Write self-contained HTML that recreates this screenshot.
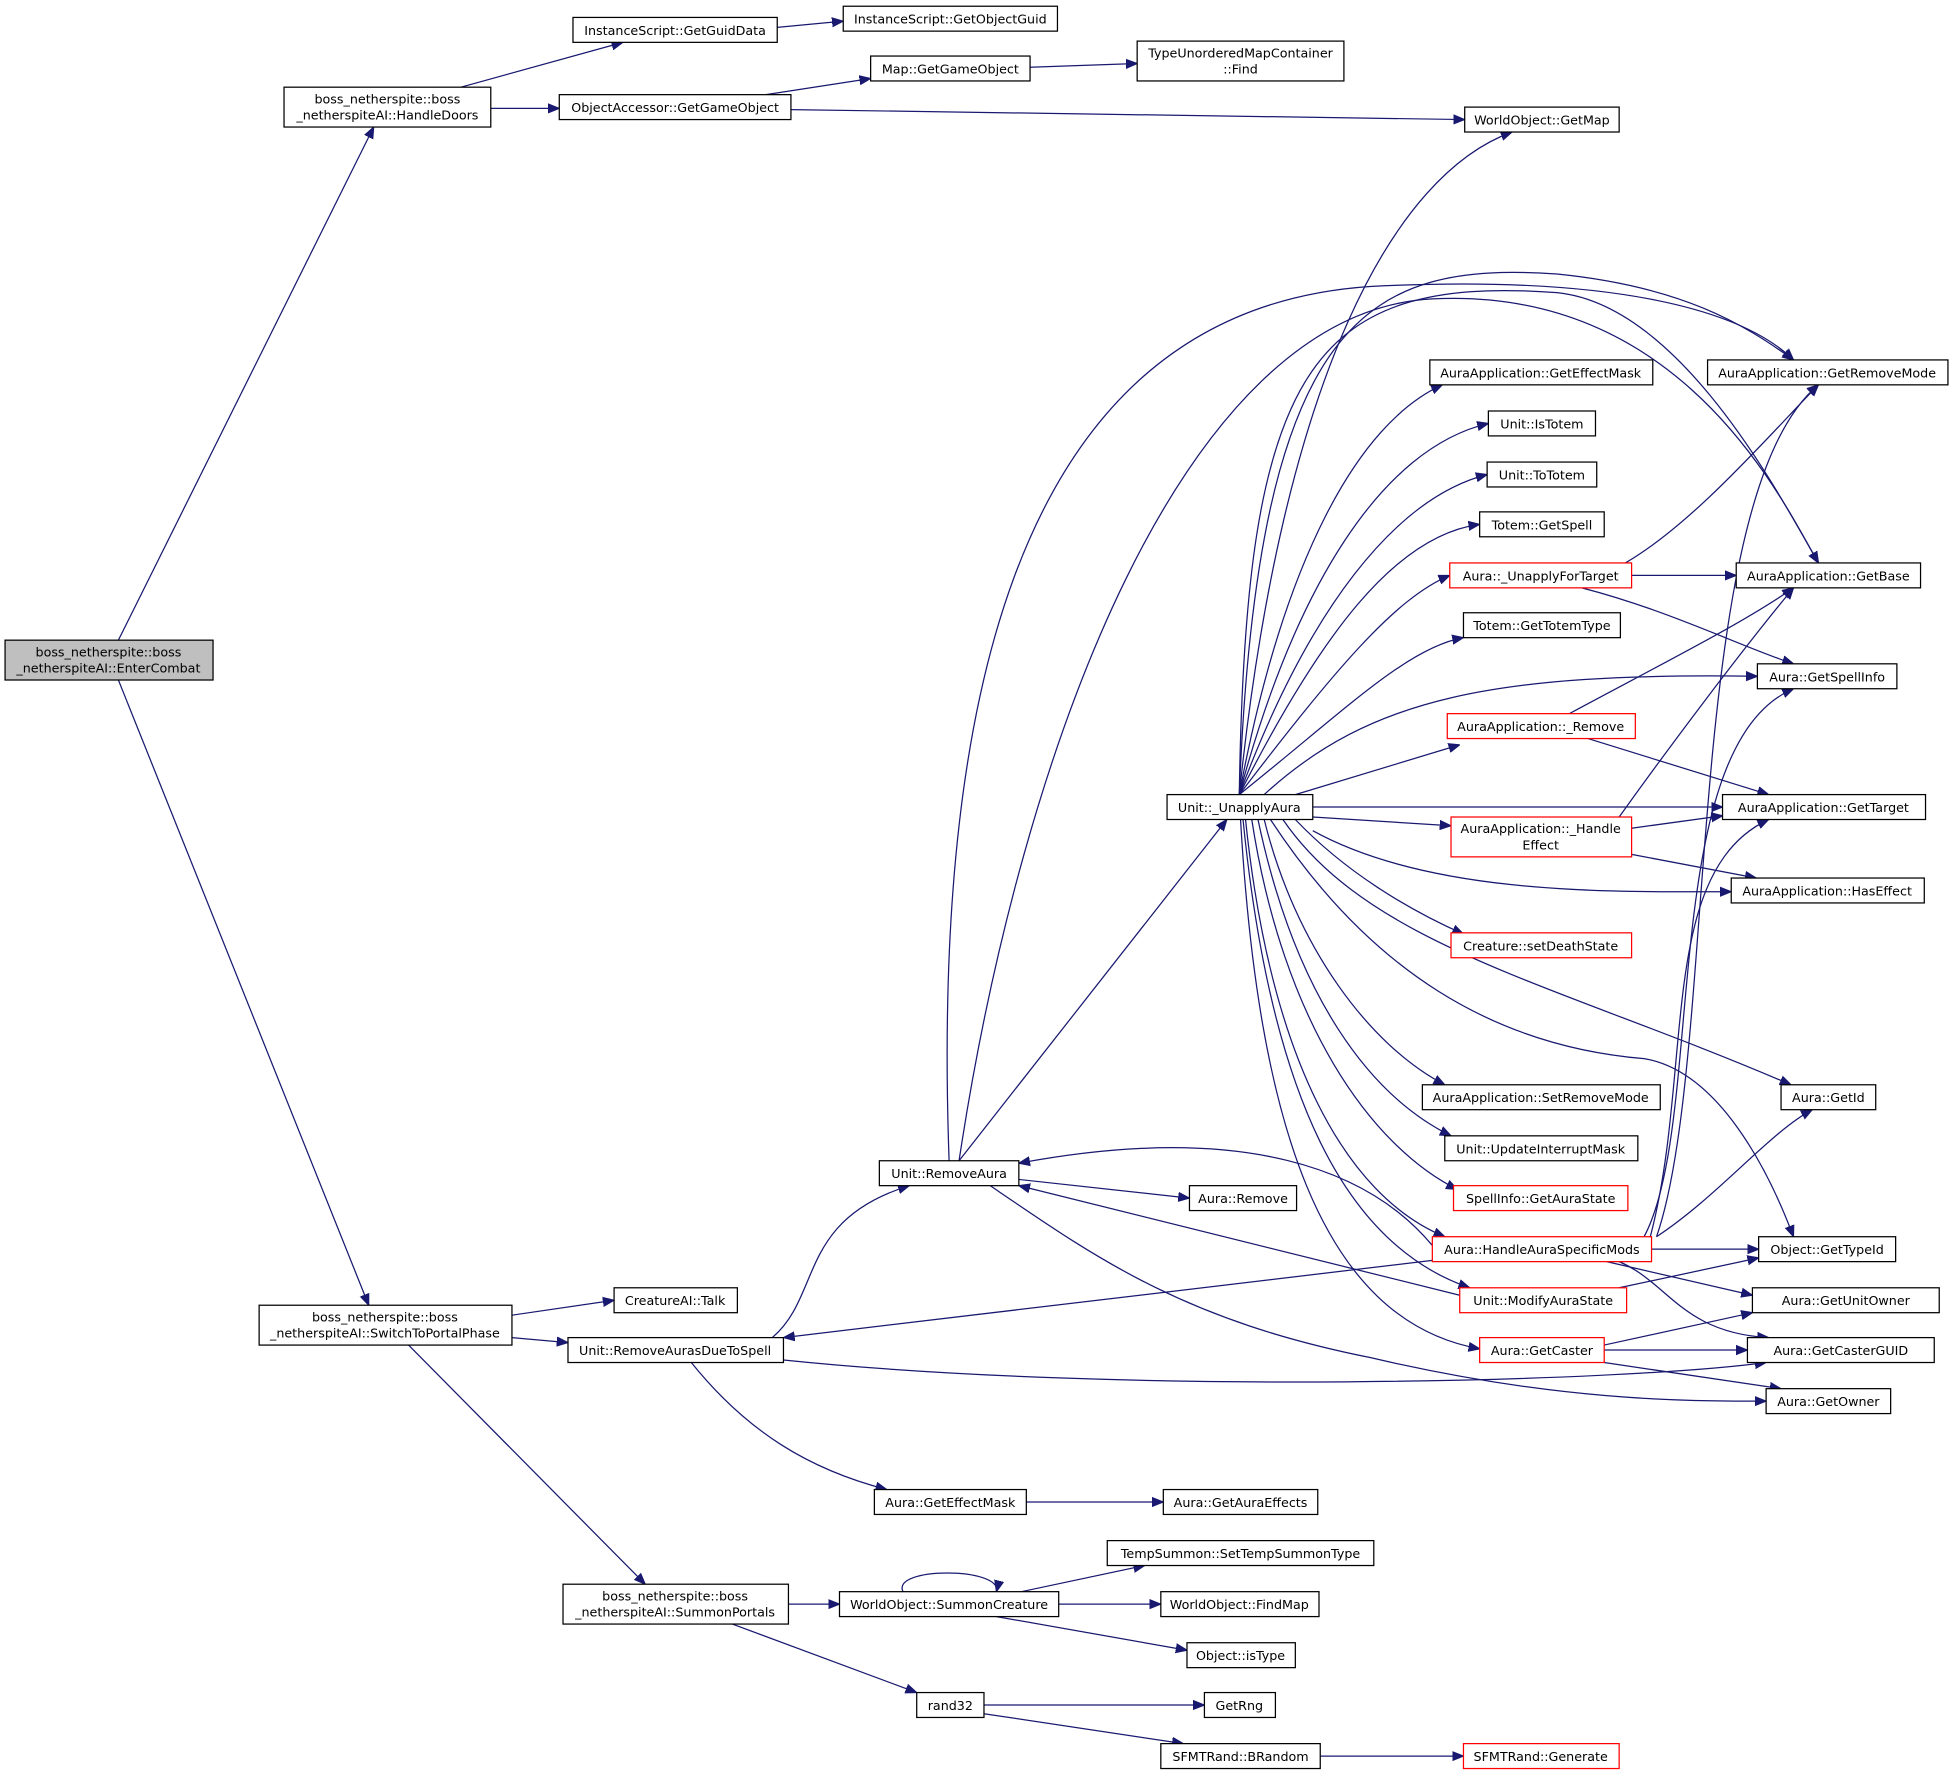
<!DOCTYPE html>
<html><head><meta charset="utf-8"><style>
html,body{margin:0;padding:0;background:#fff;}
svg{display:block}
text{font-family:"DejaVu Sans","Liberation Sans",sans-serif;font-size:10.2px;fill:#000;text-anchor:middle}
.n{fill:#fff;stroke:#000;stroke-width:1}
.r{fill:#fff;stroke:#f00;stroke-width:1}
.e{fill:none;stroke:#191970;stroke-width:1}
</style></head><body>
<svg width="1953" height="1776" viewBox="0 0 1568 1426" xmlns="http://www.w3.org/2000/svg">
<defs><marker id="a" viewBox="0 0 10 10" refX="10" refY="5" markerWidth="9" markerHeight="9" markerUnits="userSpaceOnUse" orient="auto"><path d="M0,1 L10,5 L0,9 z" fill="#191970" stroke="#191970"/></marker></defs>
<g marker-end="url(#a)" class="e">
<path class="e" d="M95,514 L300,102"/>
<path class="e" d="M95,546 L296,1048"/>
<path class="e" d="M370,70 L500,34"/>
<path class="e" d="M394,87 L449,87"/>
<path class="e" d="M624,22 L677,17"/>
<path class="e" d="M615,76 L699,63"/>
<path class="e" d="M635,88 L1176,96"/>
<path class="e" d="M827,54 L913,51"/>
<path class="e" d="M995,638 C1030,300 1120,140 1214,106"/>
<path class="e" d="M995,638 C1010,250 1100,210 1250,220 C1350,230 1400,260 1440,289"/>
<path class="e" d="M995,638 C1000,300 1050,220 1250,235 C1350,245 1430,400 1460,452"/>
<path class="e" d="M995,638 C1030,450 1090,340 1158,309"/>
<path class="e" d="M995,638 C1040,470 1110,360 1195,340"/>
<path class="e" d="M995,638 C1050,490 1120,400 1194,381"/>
<path class="e" d="M995,638 C1060,510 1120,430 1188,421"/>
<path class="e" d="M995,638 C1070,540 1120,480 1164,462"/>
<path class="e" d="M995,638 C1080,570 1130,520 1175,512"/>
<path class="e" d="M1015,638 C1100,560 1200,540 1411,543"/>
<path class="e" d="M1040,638 L1172,598"/>
<path class="e" d="M1054,648 L1383,648"/>
<path class="e" d="M1054,656 L1165,663"/>
<path class="e" d="M1054,667 C1150,720 1300,716 1390,716"/>
<path class="e" d="M1040,658 C1080,700 1130,730 1175,750"/>
<path class="e" d="M1030,658 C1100,760 1250,790 1438,871"/>
<path class="e" d="M1015,658 C1040,760 1100,840 1160,871"/>
<path class="e" d="M1010,658 C1040,800 1100,880 1165,912"/>
<path class="e" d="M1005,658 C1030,820 1100,920 1170,955"/>
<path class="e" d="M1000,658 C1020,850 1080,960 1160,993"/>
<path class="e" d="M998,658 C1020,880 1080,1000 1180,1034"/>
<path class="e" d="M996,658 C1010,900 1060,1060 1188,1083"/>
<path class="e" d="M1020,658 C1100,780 1200,840 1320,850 C1380,860 1420,940 1440,993"/>
<path class="e" d="M1150,1000 C1100,940 1000,900 818,934"/>
<path class="e" d="M1172,1040 L818,952"/>
<path class="e" d="M762,932 C750,600 800,250 1100,230 C1300,220 1400,250 1440,289"/>
<path class="e" d="M770,932 C820,600 950,250 1150,240 C1350,230 1430,400 1460,452"/>
<path class="e" d="M770,932 L985,658"/>
<path class="e" d="M818,947 L955,962"/>
<path class="e" d="M795,952 C880,1010 950,1060 1100,1090 C1250,1125 1350,1125 1418,1125"/>
<path class="e" d="M620,1074 C660,1040 640,980 730,952"/>
<path class="e" d="M629,1092 C900,1120 1300,1110 1418,1094"/>
<path class="e" d="M555,1094 C600,1150 650,1180 712,1196"/>
<path class="e" d="M1150,1012 L629,1074"/>
<path class="e" d="M411,1056 L493,1044"/>
<path class="e" d="M411,1074 L456,1078"/>
<path class="e" d="M328,1080 L518,1272"/>
<path class="e" d="M824,1206 L934,1206"/>
<path class="e" d="M633,1288 L674,1288"/>
<path class="e" d="M588,1304 L736,1359"/>
<path class="e" d="M725,1278 C715,1258 805,1258 800,1278"/>
<path class="e" d="M820,1278 L919,1257"/>
<path class="e" d="M850,1288 L932,1288"/>
<path class="e" d="M800,1298 L953,1325"/>
<path class="e" d="M790,1369 L967,1369"/>
<path class="e" d="M790,1376 L950,1400"/>
<path class="e" d="M1060,1410 L1175,1410"/>
<path class="e" d="M1305,452 C1360,420 1420,350 1460,309"/>
<path class="e" d="M1310,462 L1394,462"/>
<path class="e" d="M1270,472 C1340,490 1400,520 1440,533"/>
<path class="e" d="M1260,573 C1340,530 1400,500 1440,472"/>
<path class="e" d="M1275,593 L1420,638"/>
<path class="e" d="M1300,656 C1340,600 1400,520 1440,472"/>
<path class="e" d="M1310,665 L1383,655"/>
<path class="e" d="M1310,686 L1410,705"/>
<path class="e" d="M1326,1003 L1412,1003"/>
<path class="e" d="M1290,1013 L1407,1040"/>
<path class="e" d="M1300,1013 C1340,1030 1350,1070 1420,1074"/>
<path class="e" d="M1330,993 C1380,960 1420,910 1455,891"/>
<path class="e" d="M1320,993 C1370,900 1330,600 1440,553"/>
<path class="e" d="M1325,993 C1360,860 1330,700 1420,658"/>
<path class="e" d="M1330,993 C1380,850 1350,400 1460,309"/>
<path class="e" d="M1300,1034 L1412,1010"/>
<path class="e" d="M1288,1080 L1407,1054"/>
<path class="e" d="M1288,1084 L1403,1084"/>
<path class="e" d="M1288,1094 L1430,1115"/>
</g>
<g>
<rect x="4" y="514" width="167" height="32" fill="#bfbfbf" stroke="#000"/><text x="87" y="527">boss_netherspite::boss</text><text x="87" y="540">_netherspiteAI::EnterCombat</text>
<rect class="n" x="228" y="70" width="166" height="32"/><text x="311" y="83">boss_netherspite::boss</text><text x="311" y="96">_netherspiteAI::HandleDoors</text>
<rect class="n" x="208" y="1048" width="203" height="32"/><text x="309" y="1061">boss_netherspite::boss</text><text x="309" y="1074">_netherspiteAI::SwitchToPortalPhase</text>
<rect class="n" x="452" y="1272" width="181" height="32"/><text x="542" y="1285">boss_netherspite::boss</text><text x="542" y="1298">_netherspiteAI::SummonPortals</text>
<rect class="n" x="913" y="33" width="166" height="32"/><text x="996" y="46">TypeUnorderedMapContainer</text><text x="996" y="59">::Find</text>
<rect class="r" x="1165" y="656" width="145" height="32"/><text x="1237" y="669">AuraApplication::_Handle</text><text x="1237" y="682">Effect</text>
<rect class="n" x="460" y="14" width="164" height="20"/><text x="542" y="28">InstanceScript::GetGuidData</text>
<rect class="n" x="677" y="5" width="172" height="20"/><text x="763" y="19">InstanceScript::GetObjectGuid</text>
<rect class="n" x="449" y="76" width="186" height="20"/><text x="542" y="90">ObjectAccessor::GetGameObject</text>
<rect class="n" x="699" y="45" width="128" height="20"/><text x="763" y="59">Map::GetGameObject</text>
<rect class="n" x="1176" y="86" width="124" height="20"/><text x="1238" y="100">WorldObject::GetMap</text>
<rect class="n" x="1371" y="289" width="193" height="20"/><text x="1467" y="303">AuraApplication::GetRemoveMode</text>
<rect class="n" x="1148" y="289" width="179" height="20"/><text x="1237" y="303">AuraApplication::GetEffectMask</text>
<rect class="n" x="1195" y="330" width="86" height="20"/><text x="1238" y="344">Unit::IsTotem</text>
<rect class="n" x="1194" y="371" width="88" height="20"/><text x="1238" y="385">Unit::ToTotem</text>
<rect class="n" x="1188" y="411" width="100" height="20"/><text x="1238" y="425">Totem::GetSpell</text>
<rect class="r" x="1164" y="452" width="146" height="20"/><text x="1237" y="466">Aura::_UnapplyForTarget</text>
<rect class="n" x="1394" y="452" width="148" height="20"/><text x="1468" y="466">AuraApplication::GetBase</text>
<rect class="n" x="1175" y="492" width="126" height="20"/><text x="1238" y="506">Totem::GetTotemType</text>
<rect class="n" x="1411" y="533" width="112" height="20"/><text x="1467" y="547">Aura::GetSpellInfo</text>
<rect class="r" x="1162" y="573" width="151" height="20"/><text x="1237" y="587">AuraApplication::_Remove</text>
<rect class="n" x="937" y="638" width="117" height="20"/><text x="995" y="652">Unit::_UnapplyAura</text>
<rect class="n" x="1383" y="638" width="163" height="20"/><text x="1464" y="652">AuraApplication::GetTarget</text>
<rect class="n" x="1390" y="705" width="155" height="20"/><text x="1467" y="719">AuraApplication::HasEffect</text>
<rect class="r" x="1165" y="749" width="145" height="20"/><text x="1237" y="763">Creature::setDeathState</text>
<rect class="n" x="1430" y="871" width="76" height="20"/><text x="1468" y="885">Aura::GetId</text>
<rect class="n" x="1142" y="871" width="191" height="20"/><text x="1237" y="885">AuraApplication::SetRemoveMode</text>
<rect class="n" x="1160" y="912" width="155" height="20"/><text x="1237" y="926">Unit::UpdateInterruptMask</text>
<rect class="n" x="706" y="932" width="112" height="20"/><text x="762" y="946">Unit::RemoveAura</text>
<rect class="n" x="955" y="952" width="86" height="20"/><text x="998" y="966">Aura::Remove</text>
<rect class="r" x="1167" y="952" width="140" height="20"/><text x="1237" y="966">SpellInfo::GetAuraState</text>
<rect class="r" x="1150" y="993" width="176" height="20"/><text x="1238" y="1007">Aura::HandleAuraSpecificMods</text>
<rect class="n" x="1412" y="993" width="110" height="20"/><text x="1467" y="1007">Object::GetTypeId</text>
<rect class="r" x="1172" y="1034" width="134" height="20"/><text x="1239" y="1048">Unit::ModifyAuraState</text>
<rect class="n" x="1407" y="1034" width="150" height="20"/><text x="1482" y="1048">Aura::GetUnitOwner</text>
<rect class="r" x="1188" y="1074" width="100" height="20"/><text x="1238" y="1088">Aura::GetCaster</text>
<rect class="n" x="1403" y="1074" width="150" height="20"/><text x="1478" y="1088">Aura::GetCasterGUID</text>
<rect class="n" x="1418" y="1115" width="100" height="20"/><text x="1468" y="1129">Aura::GetOwner</text>
<rect class="n" x="493" y="1034" width="99" height="20"/><text x="542" y="1048">CreatureAI::Talk</text>
<rect class="n" x="456" y="1074" width="173" height="20"/><text x="542" y="1088">Unit::RemoveAurasDueToSpell</text>
<rect class="n" x="702" y="1196" width="122" height="20"/><text x="763" y="1210">Aura::GetEffectMask</text>
<rect class="n" x="934" y="1196" width="124" height="20"/><text x="996" y="1210">Aura::GetAuraEffects</text>
<rect class="n" x="889" y="1237" width="214" height="20"/><text x="996" y="1251">TempSummon::SetTempSummonType</text>
<rect class="n" x="674" y="1278" width="176" height="20"/><text x="762" y="1292">WorldObject::SummonCreature</text>
<rect class="n" x="932" y="1278" width="127" height="20"/><text x="995" y="1292">WorldObject::FindMap</text>
<rect class="n" x="953" y="1319" width="87" height="20"/><text x="996" y="1333">Object::isType</text>
<rect class="n" x="736" y="1359" width="54" height="20"/><text x="763" y="1373">rand32</text>
<rect class="n" x="967" y="1359" width="57" height="20"/><text x="995" y="1373">GetRng</text>
<rect class="n" x="932" y="1400" width="128" height="20"/><text x="996" y="1414">SFMTRand::BRandom</text>
<rect class="r" x="1175" y="1400" width="125" height="20"/><text x="1237" y="1414">SFMTRand::Generate</text>
</g>
</svg>
</body></html>
